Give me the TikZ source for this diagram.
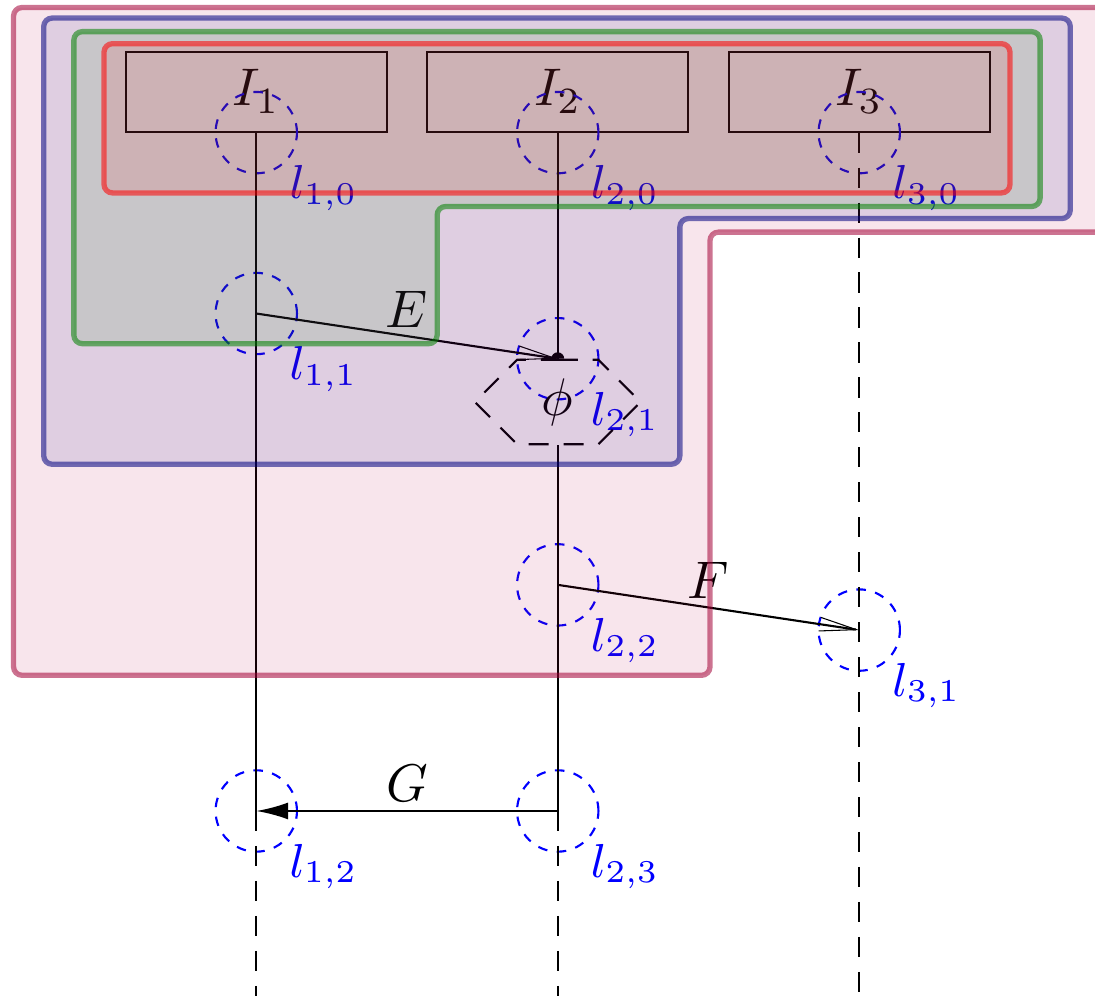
\documentclass[tikz,border=0pt]{standalone}
\usetikzlibrary{arrows.meta,shapes.symbols}
\begin{document}
\begin{tikzpicture}[
  inst/.style={draw,minimum width=1.73cm,minimum height=0.52cm,anchor=south},
  loc/.style={draw=blue,dash pattern=on 1.8pt off 1.8pt,circle,minimum size=0.54cm,inner sep=0pt},
  loclab/.style={blue,anchor=north west,inner sep=0.5pt,font=\small},
  life/.style={dash pattern=on 3.8pt off 2.8pt},
  msg/.style={-{Straight Barb[length=7pt,width=2.6pt,line width=0.2pt]}},
  msglab/.style={above,inner sep=1.5pt},
  region/.style={line width=1pt,rounded corners=1.6pt,fill opacity=0.1,draw opacity=0.55}]
\useasboundingbox (0,0) rectangle (7.264,-6.607);
\clip (0,0) rectangle (7.264,-6.607);
\node[inst] (I1) at (1.7,-0.88) {$I_1$};
\node[inst] (I2) at (3.7,-0.88) {$I_2$};
\node[inst] (I3) at (5.7,-0.88) {$I_3$};
\node[loc] (l10) at (1.7,-0.88) {};
\node[loc] (l20) at (3.7,-0.88) {};
\node[loc] (l30) at (5.7,-0.88) {};
\node[loc] (l11) at (1.7,-2.08) {};
\node[loc] (l21) at (3.7,-2.38) {};
\node[loc] (l22) at (3.7,-3.88) {};
\node[loc] (l31) at (5.7,-4.18) {};
\node[loc] (l12) at (1.7,-5.38) {};
\node[loc] (l23) at (3.7,-5.38) {};
\foreach \n/\t in {l10/{1,0},l20/{2,0},l30/{3,0},l11/{1,1},l21/{2,1},l22/{2,2},l31/{3,1},l12/{1,2},l23/{2,3}}
  \node[loclab] at (\n.south east) {$l_{\t}$};
\node[draw,life,shape=signal,signal to=west and east,anchor=north,
  minimum height=0.56cm,minimum width=1.1cm,inner sep=1pt] (phi) at (l21.center) {$\phi$};
\coordinate (e1) at (1.7,-6.607);
\coordinate (e2) at (3.7,-6.607);
\coordinate (e3) at (5.7,-6.607);
\draw (I1.south) -- (l12.center);
\draw[life] (l12.center) -- (e1);
\draw (I2.south) -- (l21.center);
\draw (phi.south) -- (l23.center);
\draw[life] (l23.center) -- (e2);
\draw[life] (I3.south) -- (e3);
\draw[msg] (l11.center) -- node[msglab] {$E$} (l21.center);
\fill ([xshift=-0.043cm]l21.center) arc[start angle=180,end angle=0,radius=0.043cm] -- cycle;
\draw[msg] (l22.center) -- node[msglab] {$F$} (l31.center);
\draw[-{Latex[length=6pt,width=3.2pt]}] (l23.center) -- node[msglab] {$G$} (l12.center);
\draw[region,draw=purple!85!black,fill=purple] (0.09,-0.05) -- (7.5,-0.05) -- (7.5,-1.54) -- (4.71,-1.54) -- (4.71,-4.48) -- (0.09,-4.48) -- cycle;
\draw[region,draw=blue!50!black,fill=blue!50!black] (0.29,-0.12) -- (7.10,-0.12) -- (7.10,-1.45) -- (4.51,-1.45) -- (4.51,-3.08) -- (0.29,-3.08) -- cycle;
\draw[region,draw=green!50!black,fill=green!50!black] (0.49,-0.21) -- (6.90,-0.21) -- (6.90,-1.37) -- (2.90,-1.37) -- (2.90,-2.28) -- (0.49,-2.28) -- cycle;
\draw[region,draw=red,fill=red] (0.69,-0.29) rectangle (6.70,-1.28);
\end{tikzpicture}
\end{document}
